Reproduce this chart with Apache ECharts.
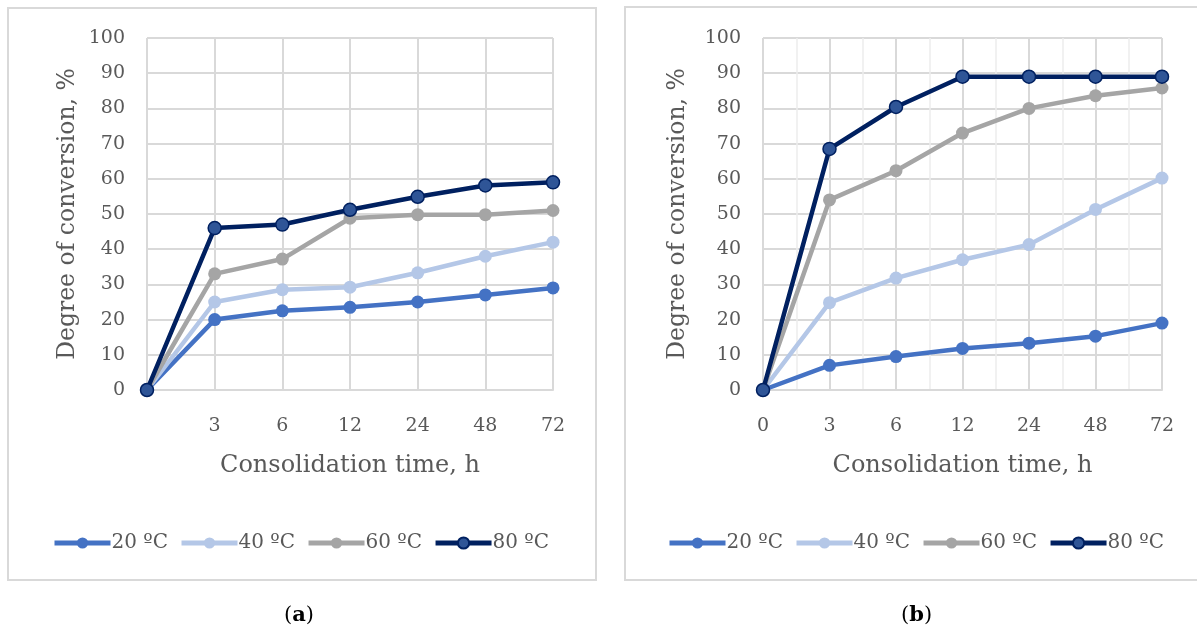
<!DOCTYPE html>
<html>
<head>
<meta charset="utf-8">
<script src="https://cdn.jsdelivr.net/npm/echarts@6/dist/echarts.min.js"></script>
<style>
  html, body { margin: 0; padding: 0; background: #ffffff; }
  #chart { width: 1197px; height: 636px; }
</style>
</head>
<body>
<div id="chart"></div>
<script>
// Consolidation time categories (h)
const times = ['0', '3', '6', '12', '24', '48', '72'];
const seriesNames = ['20 ºC', '40 ºC', '60 ºC', '80 ºC'];
const yTicks = [0, 10, 20, 30, 40, 50, 60, 70, 80, 90, 100];

// Panel (a): degree of conversion, %
const a20 = [0, 20, 22.5, 23.5, 25, 27, 29];
const a40 = [0, 25, 28.5, 29.2, 33.3, 38, 42];
const a60 = [0, 33, 37.2, 48.8, 49.8, 49.8, 51];
const a80 = [0, 46, 47, 51.2, 54.9, 58.1, 59];

// Panel (b): degree of conversion, %
const b20 = [0, 7, 9.5, 11.8, 13.3, 15.3, 19];
const b40 = [0, 24.8, 31.8, 37, 41.3, 51.3, 60.2];
const b60 = [0, 54, 62.3, 73, 80, 83.6, 85.8];
const b80 = [0, 68.5, 80.4, 89, 89, 89, 89];

const colors = ['#4472C4', '#B4C7E7', '#A5A5A5', '#002060'];
const markerFill = ['#4472C4', '#B4C7E7', '#A5A5A5', '#2F5597'];

const FONT = 'DejaVu Serif';
const TXT = '#595959';
const GRID = '#D9D9D9';

function makeSeries(values, idx, panel) {
  const d = panel === 0 ? values : values.map((v, i) => [i, v]);
  return {
    name: seriesNames[idx],
    type: 'line',
    xAxisIndex: panel,
    yAxisIndex: panel,
    data: d,
    symbol: 'circle',
    symbolSize: 13,
    lineStyle: { color: colors[idx], width: 4.5 },
    itemStyle: {
      color: markerFill[idx],
      borderColor: colors[idx],
      borderWidth: idx === 3 ? 1.5 : 0
    },
    emphasis: { disabled: true },
    z: 2 + idx,
    animation: false
  };
}

const yAxisBase = {
  type: 'value',
  min: 0,
  max: 100,
  interval: 10,
  axisLine: { show: false },
  axisTick: { show: false },
  splitLine: { lineStyle: { color: GRID, width: 2 } },
  axisLabel: { color: TXT, fontFamily: FONT, fontSize: 19, margin: 22,
    formatter: v => yTicks.includes(v) ? String(v) : '' },
  name: 'Degree of conversion, %',
  nameLocation: 'middle',
  nameTextStyle: { color: TXT, fontFamily: FONT, fontSize: 23.5 }
};

const xNameStyle = { color: TXT, fontFamily: FONT, fontSize: 24 };

const legendBase = {
  padding: 0,
  itemWidth: 56,
  itemHeight: 14,
  itemGap: 11,
  lineStyle: { width: 5 },
  textStyle: { color: TXT, fontFamily: FONT, fontSize: 20, padding: [0, 0, 0, -4] },
  selectedMode: false
};

const option = {
  backgroundColor: '#ffffff',
  animation: false,
  grid: [
    { left: 147, top: 38, width: 406, height: 352 },
    { left: 763, top: 38, width: 399, height: 352 }
  ],
  xAxis: [
    {
      type: 'category',
      gridIndex: 0,
      data: times,
      boundaryGap: false,
      axisLine: { lineStyle: { color: GRID, width: 2 } },
      axisTick: { show: false },
      splitLine: { show: true, lineStyle: { color: GRID, width: 2 } },
      axisLabel: { color: TXT, fontFamily: FONT, fontSize: 19, margin: 27,
        formatter: (v, i) => i === 0 ? '' : v },
      name: 'Consolidation time, h',
      nameLocation: 'middle',
      nameGap: 64,
      nameTextStyle: xNameStyle
    },
    {
      type: 'value',
      gridIndex: 1,
      min: 0,
      max: times.length - 1,
      interval: 1,
      axisLine: { lineStyle: { color: GRID, width: 2 } },
      axisTick: { show: false },
      splitLine: { show: true, lineStyle: { color: GRID, width: 2 } },
      minorTick: { show: false, splitNumber: 2 },
      minorSplitLine: { show: true, lineStyle: { color: '#EDEDED', width: 1.5 } },
      axisLabel: { color: TXT, fontFamily: FONT, fontSize: 19, margin: 27,
        formatter: v => times[v] },
      name: 'Consolidation time, h',
      nameLocation: 'middle',
      nameGap: 64,
      nameTextStyle: xNameStyle
    }
  ],
  yAxis: [
    Object.assign({}, yAxisBase, { gridIndex: 0, nameGap: 67 }),
    Object.assign({}, yAxisBase, { gridIndex: 1, nameGap: 73 })
  ],
  legend: [
    Object.assign({}, legendBase, { left: 52, top: 533, data: seriesNames.map(n => ({ name: n })) }),
    Object.assign({}, legendBase, { left: 667, top: 533, data: seriesNames.map(n => ({ name: n })) })
  ],
  series: [
    makeSeries(a20, 0, 0), makeSeries(a40, 1, 0), makeSeries(a60, 2, 0), makeSeries(a80, 3, 0),
    makeSeries(b20, 0, 1), makeSeries(b40, 1, 1), makeSeries(b60, 2, 1), makeSeries(b80, 3, 1)
  ],
  graphic: [
    { type: 'rect', shape: { x: 8, y: 8, width: 588, height: 572 },
      style: { fill: 'none', stroke: GRID, lineWidth: 2 }, silent: true },
    { type: 'rect', shape: { x: 625, y: 7, width: 600, height: 573 },
      style: { fill: 'none', stroke: GRID, lineWidth: 2 }, silent: true },
    { type: 'text', left: 284, top: 605,
      style: { text: '({b|a})', fill: '#000', font: '21px "' + FONT + '"',
        rich: { b: { fontWeight: 'bold', fontSize: 21, fontFamily: FONT, fill: '#000' } } } },
    { type: 'text', left: 901, top: 605,
      style: { text: '({b|b})', fill: '#000', font: '21px "' + FONT + '"',
        rich: { b: { fontWeight: 'bold', fontSize: 21, fontFamily: FONT, fill: '#000' } } } }
  ]
};

const chart = echarts.init(document.getElementById('chart'), null, { renderer: 'canvas' });
chart.setOption(option);
</script>
</body>
</html>
